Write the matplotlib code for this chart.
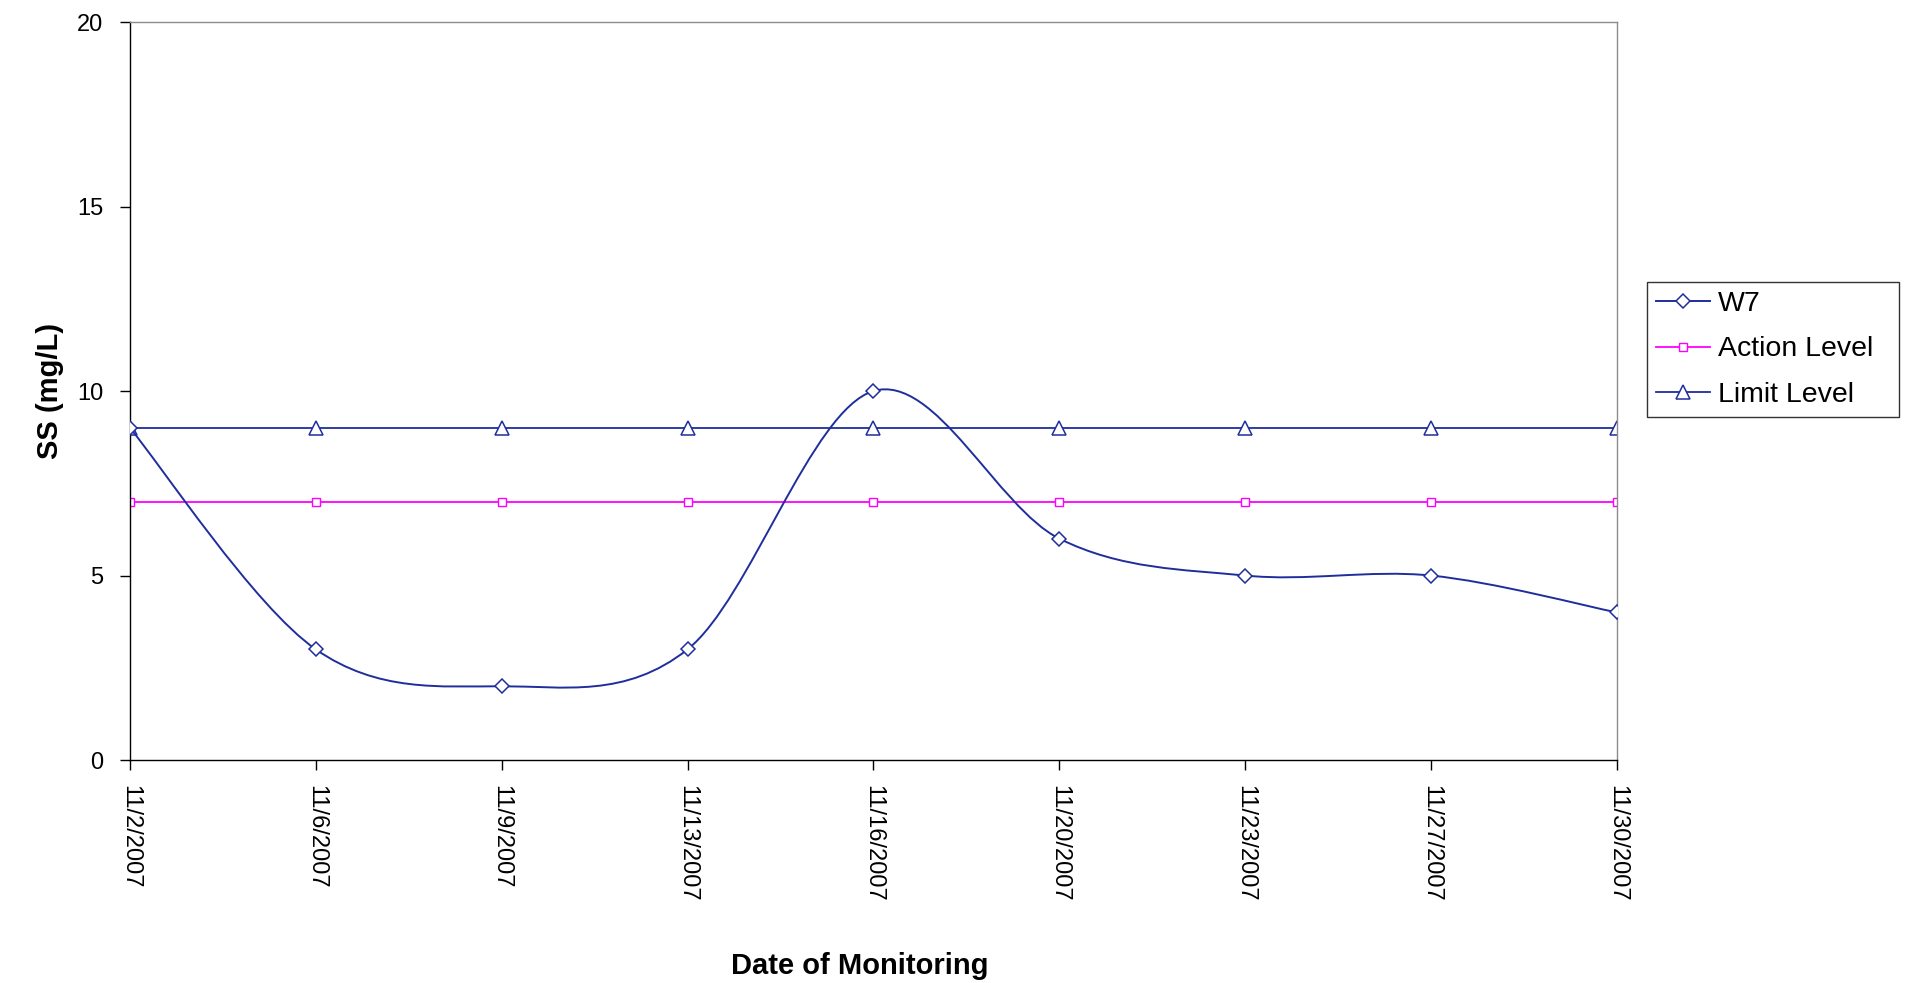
import matplotlib
matplotlib.use('Agg')
import matplotlib.pyplot as plt
from matplotlib.path import Path
from matplotlib.patches import PathPatch

# data
dates = ['11/2/2007', '11/6/2007', '11/9/2007', '11/13/2007', '11/16/2007',
         '11/20/2007', '11/23/2007', '11/27/2007', '11/30/2007']
w7 = [9, 3, 2, 3, 10, 6, 5, 5, 4]
action_level = [7, 7, 7, 7, 7, 7, 7, 7, 7]
limit_level = [9, 9, 9, 9, 9, 9, 9, 9, 9]

BLUE = '#1f2e9c'
PINK = '#ff00ff'

plt.rcParams['font.family'] = ['Liberation Sans', 'DejaVu Sans']


def smooth_path(xs, ys):
    # excel style smoothed line: bezier segments through every point
    pts = list(zip(xs, ys))
    n = len(pts)
    verts = [pts[0]]
    codes = [Path.MOVETO]
    for i in range(n - 1):
        p0 = pts[max(i - 1, 0)]
        p1 = pts[i]
        p2 = pts[i + 1]
        p3 = pts[min(i + 2, n - 1)]
        c1 = (p1[0] + (p2[0] - p0[0]) / 6, p1[1] + (p2[1] - p0[1]) / 6)
        c2 = (p2[0] - (p3[0] - p1[0]) / 6, p2[1] - (p3[1] - p1[1]) / 6)
        verts += [c1, c2, p2]
        codes += [Path.CURVE4] * 3
    return Path(verts, codes)


fig = plt.figure(figsize=(19.05, 9.83), dpi=100)
ax = fig.add_axes([0.0682, 0.2268, 0.7806, 0.7508])

x = list(range(len(dates)))

w7_style = dict(color=BLUE, lw=1.4, marker='D', ms=7.5, mfc='white', mec=BLUE, mew=1.1)
act_style = dict(color=PINK, lw=1.3, marker='s', ms=6, mfc='white', mec=PINK, mew=1.0)
lim_style = dict(color=BLUE, lw=1.3, marker='^', ms=10, mfc='white', mec=BLUE, mew=1.1)

# W7 smoothed line + markers
ax.add_patch(PathPatch(smooth_path(x, w7), facecolor='none', edgecolor=BLUE, lw=1.4, zorder=3))
ax.plot(x, w7, linestyle='none', marker='D', ms=7.5, mfc='white', mec=BLUE, mew=1.1, zorder=4)
ax.plot(x, action_level, zorder=2, **act_style)
ax.plot(x, limit_level, zorder=2, **lim_style)

# legend handles
h1, = ax.plot([], [], **w7_style)
h2, = ax.plot([], [], **act_style)
h3, = ax.plot([], [], **lim_style)

ax.set_xlim(0, len(dates) - 1)
ax.set_ylim(0, 20)
ax.set_yticks([0, 5, 10, 15, 20])
ax.set_xticks(x)
ax.set_xticklabels(dates, rotation=270, ha='center', va='top')
ax.tick_params(axis='x', length=7.2, width=1, pad=11, labelsize=17, direction='out')
ax.tick_params(axis='y', length=7.2, width=1, pad=12, labelsize=17, direction='out')

for side in ['top', 'right']:
    ax.spines[side].set_color('#8c8c8c')
    ax.spines[side].set_linewidth(1)
for side in ['left', 'bottom']:
    ax.spines[side].set_color('black')
    ax.spines[side].set_linewidth(1)

fig.text(0.0265, 0.602, 'SS (mg/L)', rotation=90, ha='center', va='center',
         fontsize=21, fontweight='bold')
fig.text(0.4515, 0.017, 'Date of Monitoring', ha='center', va='center',
         fontsize=21, fontweight='bold')

leg = fig.legend([h1, h2, h3], ['W7', 'Action Level', 'Limit Level'],
                 loc='upper left', bbox_to_anchor=(0.8646, 0.5768, 0.1323, 0.1363),
                 bbox_transform=fig.transFigure, mode='expand', fontsize=20.5,
                 numpoints=1, handlelength=1.9, handletextpad=0.3, labelspacing=0.7,
                 borderpad=0.3, borderaxespad=0, fancybox=False, frameon=True)
leg.get_frame().set_edgecolor('black')
leg.get_frame().set_linewidth(1)

fig.savefig('out.png', dpi=100)
